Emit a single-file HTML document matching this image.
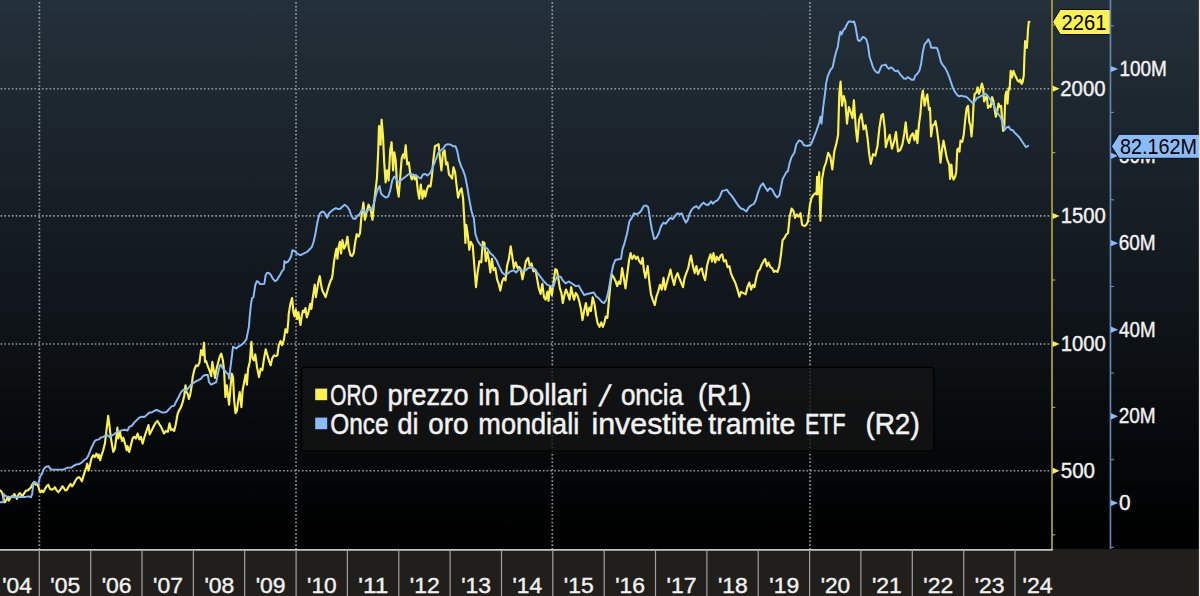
<!DOCTYPE html>
<html lang="it"><head><meta charset="utf-8"><title>ORO / ETF</title>
<style>
html,body{margin:0;padding:0;background:#000;}
body{width:1200px;height:596px;overflow:hidden;position:relative;}
#chart{position:absolute;left:0;top:0;width:1200px;height:596px;background:linear-gradient(to bottom,#24303a 0px,#1a232b 150px,#10161b 300px,#070a0c 430px,#000 535px,#000 596px);}
svg{position:absolute;left:0;top:0;}
svg text{font-family:"Liberation Sans", "DejaVu Sans", sans-serif;white-space:pre;}
</style></head><body>
<div id="chart">
<svg width="1200" height="596" viewBox="0 0 1200 596">
<line x1="39.4" y1="2.05" x2="39.4" y2="549" stroke="#96989a" stroke-width="1.7" stroke-dasharray="1.6 2.166"/>
<line x1="296" y1="2.05" x2="296" y2="549" stroke="#96989a" stroke-width="1.7" stroke-dasharray="1.6 2.166"/>
<line x1="552.3" y1="2.05" x2="552.3" y2="549" stroke="#96989a" stroke-width="1.7" stroke-dasharray="1.6 2.166"/>
<line x1="810" y1="2.05" x2="810" y2="549" stroke="#96989a" stroke-width="1.7" stroke-dasharray="1.6 2.166"/>
<line x1="0.6" y1="88.75" x2="1051" y2="88.75" stroke="#96989a" stroke-width="1.7" stroke-dasharray="1.6 2.166"/>
<line x1="0.6" y1="215.9" x2="1051" y2="215.9" stroke="#96989a" stroke-width="1.7" stroke-dasharray="1.6 2.166"/>
<line x1="0.6" y1="344" x2="1051" y2="344" stroke="#96989a" stroke-width="1.7" stroke-dasharray="1.6 2.166"/>
<line x1="0.6" y1="470.75" x2="1051" y2="470.75" stroke="#96989a" stroke-width="1.7" stroke-dasharray="1.6 2.166"/>
<path d="M0 490.5 L1.3 491.4 L2.5 493.9 L3.7 498.9 L5 502.3 L6.4 499.8 L7.6 497.2 L8.7 500.6 L10.1 498.1 L11.4 496.4 L12.6 497.2 L14.3 493.9 L15.4 495.6 L16.8 498.9 L18.1 495.6 L19.8 493.1 L21 494.7 L22.7 495.6 L24.3 493.1 L26 490.5 L27.7 490.5 L29.4 488.9 L31 487.2 L32.7 483.8 L34.4 482.1 L35.6 484.7 L36.9 483.8 L38.3 486.3 L39.4 490.5 L40.6 492.2 L41.9 490.5 L43.3 492.2 L45 488.9 L46.6 486.3 L48.3 484.7 L50 488.9 L51.7 489.7 L53.4 488.9 L55 487.2 L56.7 490.5 L58.4 492.2 L60.4 489.7 L62.4 486.3 L63.8 488 L65.4 490.5 L67.1 489.7 L68.8 486.3 L70.5 483.8 L72.1 486.3 L73.8 483.8 L75.5 480.5 L77.2 478 L78.9 477.1 L80.5 478.8 L81.9 481.3 L83.1 477.1 L84.7 472.1 L86.4 467 L87.2 463.7 L88.6 470.4 L89.8 465.4 L91.4 458.7 L93.1 455.3 L94.8 457 L96.5 453.6 L98.2 457.8 L99 454.5 L100.2 460.3 L101.5 455.3 L103.2 450.3 L104.9 443.6 L106.5 430.1 L108.2 415.9 L109.4 425.1 L110.7 436.8 L112.1 445.2 L113.3 451.9 L114.9 448.6 L116.6 435.2 L117.4 427.6 L118.3 438.5 L120 431.8 L120.8 436.8 L122.1 441 L123.3 437.7 L125 443.6 L126.7 450.3 L127.5 446.1 L129.2 451.9 L130.9 445.2 L132.6 438.5 L134.2 436.8 L135.9 438.5 L137.6 433.5 L139.3 439.4 L140.9 436.8 L142.6 443.6 L144 438.5 L145.6 433.5 L147.3 428.5 L148.5 425.1 L149.7 434.3 L151 431.8 L153.5 426.8 L155.2 423.4 L157.4 420.9 L159.4 424.3 L161.1 426.8 L162.4 430.1 L164.1 433.5 L165.8 431 L167.8 431.8 L169.5 423.4 L171.1 430.1 L172.8 429.3 L174.2 431 L175.8 424.3 L177.6 414 L179.3 409.8 L181 407.2 L182.7 402.2 L184.3 395.5 L185.5 385.4 L186.5 392.1 L187.7 393.8 L188.9 398.9 L190.2 394.7 L191.5 387.1 L192.7 377 L194.4 369.5 L196.1 365.3 L197.8 366.1 L199.4 362.8 L201.1 350.2 L202.8 355.2 L204 342.7 L205 361.9 L206.1 361.1 L207.8 366.1 L209.5 370.3 L211.2 376.2 L212.3 361.9 L213.7 370.3 L215 377.9 L216.2 370.3 L217.9 363.6 L219.6 356.9 L221.2 353.6 L222.9 360.3 L224.1 370.3 L225.4 397.2 L226.8 385.4 L228 395.5 L229.1 404.7 L230.5 387.1 L231.8 373.7 L233 377 L234.2 400.5 L235.5 413.1 L236.8 411.4 L238.5 398.9 L239.7 392.1 L241.4 407.2 L242.6 390.5 L243.9 383.8 L245.6 374.5 L246.9 384.6 L248.1 368.7 L249.8 361.9 L251.4 341.8 L252.6 358.6 L254 360.3 L255.3 354.4 L257 367 L259 377 L260.7 368.7 L262.3 370.3 L264 358.6 L265.7 349.4 L267.4 355.2 L269.1 361.1 L270.7 365.3 L272.1 358.6 L274.1 355.2 L275.8 356.1 L277.4 355.2 L278.8 345.2 L280.5 341 L282.1 345.2 L283.8 340.1 L285.5 329.2 L287.2 332.6 L288.4 320 L288.7 313.9 L290.4 303.9 L292.1 298 L293.4 312.2 L294.6 316.4 L295.8 309.7 L297.1 319 L298.5 312.2 L299.6 320.6 L300.5 325 L301.8 315.6 L303 310.6 L304.2 312.2 L305.5 308.1 L306.8 317.3 L308.5 312.2 L310.2 303.9 L311.4 308.9 L312.6 298.8 L313.9 290.4 L314.7 284.6 L315.9 297.1 L317.2 288.8 L318.6 280.4 L319.8 276.2 L320.9 283.7 L322.3 290.4 L324 293.8 L325.6 297.1 L327.3 291.3 L329 285.4 L330.7 280.4 L331.8 278.7 L332.7 273.7 L334 261.9 L335.4 253.5 L336.5 248.5 L337.4 258.6 L338.7 246.8 L339.9 241.8 L341.1 253.5 L342.4 240.1 L344.1 248.5 L345.8 245.1 L347.4 236.7 L348.8 248.5 L350.5 255.2 L352.1 256 L353.8 252.7 L355 243.5 L356.7 234.2 L358.4 236.7 L360 233.4 L361.4 216.7 L363.4 202.6 L364.9 219.8 L366.5 212.7 L368.5 204.7 L370.5 208.7 L372.5 219.8 L374.1 202.6 L375.5 190.6 L376.9 178.5 L378.1 154.3 L379 126.1 L379.8 126.9 L380.6 144.6 L381.6 119.7 L383 136.2 L384.2 162.4 L385.6 182.5 L387 170.4 L388.6 180.5 L390.2 150.3 L391.6 142.2 L393.1 170.4 L394.3 152.3 L395.7 160.4 L397.1 186.5 L398.7 196.6 L400.3 176.5 L401.7 158.3 L403.1 154.3 L404.3 158.3 L405.7 145.2 L407.2 164.4 L408.8 162.4 L410.4 174.5 L411.8 179.5 L413.2 174.5 L414.8 179.5 L416.4 176.5 L417.8 190.6 L419.2 198.6 L420.8 184.5 L422.5 198.6 L423.9 190.6 L425.3 196.6 L426.9 189.6 L428.5 185.5 L430.5 186.5 L431.9 176.5 L433.3 160.4 L434.9 146.3 L437 145.2 L438.6 144.2 L440 158.3 L441.4 170.4 L443 152.3 L444.6 150.3 L446 164.4 L447.4 162.4 L449 174.5 L450.7 176.5 L452.1 178.5 L453.5 167.4 L455.1 172.4 L456.7 186.5 L458.1 197.6 L460.1 190.6 L461.5 188.5 L463.1 198.6 L464.7 227.2 L465.4 243 L466.3 224.9 L467.7 234 L469.3 249.8 L470.8 241.9 L472.7 245.3 L474.5 268 L476 287.2 L477.6 272.5 L479.4 261.2 L481.3 262.3 L482.8 241.9 L484.4 243 L485.8 261.2 L487.4 252.1 L489 261.2 L490.3 272.5 L491.9 258.9 L493.5 270.2 L495.3 268 L497.1 279.3 L498.7 283.8 L500.3 290.6 L502.1 281.5 L503.9 278.1 L505.5 280.4 L507.1 265.7 L508.9 258.9 L510.7 246.4 L512.3 256.6 L513.9 268 L515.7 262.3 L517.5 268 L519.1 266.8 L520.7 269.1 L522.5 279.3 L524.3 270.2 L525.9 261.2 L528.1 257.8 L529.7 265.7 L531.5 263.4 L533.4 271.3 L535.6 270.2 L537.2 279.3 L538.8 288.3 L540.6 294 L542.4 283.8 L544 297.4 L545.6 299.7 L547.4 291.7 L548.5 300.8 L550.1 286.1 L551.9 295.1 L553.7 281.5 L555.3 269.1 L556.9 270.2 L558.3 278.1 L559.9 288.3 L561.4 292.9 L562.8 303.1 L564.4 295.1 L566 289.5 L567.8 294 L569.6 299.7 L571.2 287.2 L572.8 295.1 L574.1 299.7 L575.7 292.9 L577.3 295.1 L579.1 300.8 L580.9 308.7 L582.5 320 L584.1 311 L585.9 303.1 L587.7 315.5 L589.3 307.6 L590.9 311 L592.7 297.4 L594.5 304.2 L596.1 315.5 L597.7 323.4 L599.5 326.8 L601.3 322.3 L602.9 326.8 L604.5 322.3 L605.8 316.6 L607.4 317.8 L609 299.7 L610.4 283.8 L611.9 274.7 L613.5 277 L615.3 280.4 L617.2 286.1 L618.7 281.5 L620.3 283.8 L622.1 268 L624 279.3 L625.5 288.3 L627.1 275.5 L628.9 261.4 L630.6 253.1 L632.2 259 L634.1 255.5 L636 259 L637.6 256.7 L639.3 261.4 L641.2 263.7 L642.6 257.8 L644 270.8 L645.4 277.8 L647.7 266.1 L649.4 282.5 L651 294.3 L652.9 300.1 L654.8 305.1 L656.4 296.6 L658.1 291.9 L660 284.9 L661.8 289.6 L663.5 277.8 L665.1 289.6 L667 282.5 L668.9 275.5 L670.5 269.6 L672.2 277.8 L674.1 284.9 L675.9 276.6 L677.6 273.1 L679.2 277.8 L681.1 282.5 L683 287.2 L684.6 277.8 L686.3 273.1 L688.2 268.4 L690 259 L691 255.5 L692.9 266.1 L694.7 273.1 L696.4 266.1 L698 274.3 L699.9 269.6 L701.8 268.4 L703.4 275.5 L705.1 280.2 L707 266.1 L708.8 259 L710.5 254.3 L712.1 261.4 L713.5 253.1 L715.2 262.5 L716.8 256.7 L718.7 260.2 L720.6 255.5 L722.2 254.3 L723.9 261.4 L725.8 260.2 L727.6 267.2 L729.3 266.1 L730.9 273.1 L732.8 277.8 L735.2 282.5 L737.5 289.6 L739.4 296.6 L741 291.9 L743.4 293.1 L745.7 294.3 L747.4 287.2 L749.3 282.5 L751.1 289.6 L752.8 284.9 L754.4 287.2 L756.3 277.8 L758.2 270.8 L759.8 269.6 L761.5 264.9 L763.4 261.4 L765.2 259 L766.9 266.1 L768.5 262.5 L770.4 267.2 L772.3 268.4 L773.9 271.9 L775.6 270.8 L777.5 271.9 L779.3 266.1 L781 254.3 L782.6 240.2 L784.5 237.9 L786.4 234.3 L788 233.2 L789.7 216.7 L791.6 208.5 L793.4 210.8 L795.1 217.9 L796.7 214.4 L798.6 216.7 L800.5 213.2 L802.1 224.9 L804.5 226.1 L806.1 224.9 L808 221.4 L809.9 205 L811.5 197.9 L813.9 194.4 L815.5 193.2 L816.5 194.3 L817.1 176.9 L817.7 194.3 L819.2 172.2 L820.4 220.7 L822.1 179.1 L824 168 L826 162.5 L828.2 152.8 L830.4 157 L832.3 169.4 L834.3 151.4 L836.5 143.1 L838.1 134.8 L839.3 93.2 L840.6 81.6 L842 105.7 L843.7 96 L845.3 101.6 L847 123.7 L848.9 107.1 L850.9 112.6 L852.5 118.2 L853.9 100.2 L855.9 129.3 L857.3 141.7 L859.2 119.6 L861.4 114 L863.6 129.3 L865.6 125.1 L867.5 137.6 L869.2 154.2 L870.8 163.9 L873 154.2 L875.3 155.6 L877.5 145.9 L879.4 127.9 L881.4 115.4 L883 114 L884.7 127.9 L885.8 147.3 L887.7 140.3 L889.7 134.8 L891.9 148.6 L894.1 141.7 L896 132 L898 151.4 L900.2 150 L902.4 144.5 L904.3 133.4 L905.7 122.3 L907.4 138.9 L909.1 143.1 L910.7 136.2 L912.7 133.4 L914.6 140.3 L916.3 130.6 L917.4 143.1 L919 123.7 L920.4 114 L921.8 96 L922.9 90.5 L924.6 105.7 L926 98.8 L927.3 94.6 L929 109.9 L930 108 L931.1 136.4 L932.6 125.5 L934.4 124.4 L935.5 121.1 L937 129.8 L938.7 142.9 L940.5 162.6 L942 149.5 L943.5 140.7 L944.8 147.3 L946.4 156 L947.5 160.4 L949.2 164.7 L950.1 178.9 L951.4 164.7 L952.3 175.6 L953.6 179.6 L955.1 176.7 L956.2 172.4 L957.3 149.5 L958.4 148.4 L959.5 151.6 L960.5 140.7 L962.3 141.8 L963.8 134.2 L965.3 118.9 L966.7 108 L968 105.8 L969.3 122.2 L970.4 125.5 L971.5 136.4 L972.5 125.5 L973.6 103.6 L974.7 93.8 L976.3 92.7 L977.6 87.3 L978.9 93.8 L980.2 90.5 L981.9 83.6 L983.2 88.4 L984.1 101.5 L985.4 98.2 L986.7 96 L988 108 L989.3 105.8 L990.7 106.9 L992 97.1 L993.3 100.4 L994.6 109.1 L995.9 116.7 L997.2 111.3 L998.5 103.6 L999.8 106.9 L1001.1 105.8 L1002 117.8 L1003.1 130.9 L1004.2 129.8 L1005.3 96 L1006.4 91.6 L1007.5 103.6 L1008.6 88.4 L1009.6 89.5 L1010.7 70.9 L1012 77.5 L1013.4 70.9 L1014.7 74.2 L1016.2 77.5 L1017.7 80.7 L1019 81.8 L1020.3 79.6 L1021.6 84 L1022.7 81.8 L1023.8 75.3 L1024.3 60.4 L1025.1 41.1 L1025.9 42.8 L1026.8 47.8 L1027.4 40.2 L1028.1 28.5 L1028.8 21.8 L1029.5 21.8" fill="none" stroke="#fbf14f" stroke-width="2.15" stroke-linejoin="round" stroke-linecap="round"/>
<path d="M0 502.3 L3.4 502.3 L3.7 493.9 L5 495.6 L6.7 496.4 L10.1 496.9 L15.1 496.9 L20.1 496.9 L25.2 496.9 L28.5 496.4 L31 497.2 L32.2 493.9 L33.1 485.5 L34.1 481.8 L35.2 482.1 L36.9 483.8 L38.6 483 L39.9 477.1 L41.9 473.8 L44 468.7 L46.1 466.7 L48.7 466.2 L50.3 468.7 L52 469.6 L55.4 469.6 L58.7 469.6 L62.9 469.6 L65.4 468.7 L68 467.6 L71.3 467.6 L73.8 465.7 L76.3 464.5 L78.9 464 L81.4 462.9 L83.9 460.3 L86.4 458.7 L88.1 456.1 L89.8 451.9 L91.4 447.8 L93.1 444.4 L94.8 441 L96.5 439.9 L99 439.4 L100.7 437.7 L103.2 436.8 L105.4 435.5 L107.4 435.2 L109.9 437.2 L112.4 435.2 L114.9 433.5 L117.4 431.5 L120 431 L122.5 430.1 L125 429.8 L127.5 430.5 L129.2 426.8 L131.7 425.9 L134.2 422.6 L136.7 420.1 L139.3 417.6 L141.8 416.7 L144.3 417 L146.8 415 L149.3 412.5 L151.8 412.5 L154.4 410.8 L156.9 410 L158.6 410.8 L162.5 412.6 L165 412.3 L166.7 411.9 L169.2 408.9 L171.7 406.4 L174.3 405.6 L175.9 402.2 L178.5 397.2 L181 392.1 L183.5 389.6 L186 390.5 L188.5 388 L191 384.6 L193.6 382.9 L196.1 381.2 L198.6 380.1 L201.1 378.7 L202.8 376.2 L205.3 375 L207.8 375 L209 382.1 L211.2 384.6 L213.7 383.4 L216.2 382.1 L217.9 373.7 L219.6 366.1 L220.7 364.5 L222.4 367.8 L224.6 370.3 L226.8 372.9 L228.5 374.5 L229.1 378.7 L230.1 370.3 L231.8 356.9 L233 346.8 L234.7 347.7 L236.3 348.5 L238 346.8 L239.7 346 L242.2 344.3 L244.7 341.8 L246.4 339.3 L247.6 333.4 L248.9 326.7 L249.8 315.6 L251 303.9 L252.1 298 L253.5 297.1 L255.2 285.4 L256.8 281.2 L258.5 282 L260.2 284.1 L262.7 284.1 L264.4 283.7 L265.6 275.3 L267.2 272.8 L269.4 273.3 L271.1 275.3 L272.8 278.7 L275 281.2 L277 280 L278.7 277 L280.3 274.5 L282 271.1 L283.7 269.5 L284.5 261.1 L286.2 262.8 L287.9 261.6 L289.6 259.4 L291.2 256 L292.4 250.2 L294.6 251 L296.3 252.7 L298.5 254.4 L300.5 255.2 L303 253.9 L305.5 252.7 L307.2 251.8 L309.7 249.3 L311.9 246.8 L313.6 241.8 L315.2 235.1 L316.9 225 L317.7 220.8 L319.7 213.7 L321.8 211.7 L323.8 211.7 L325.8 214.7 L327.2 217.8 L328.6 213.7 L330.6 211.7 L333.2 209.7 L335.9 208.1 L338.3 209.1 L340.3 208.7 L342.3 206.7 L344.7 204.7 L347.3 206.7 L349.3 209.7 L351.4 215.7 L353.4 218.8 L355.4 218.8 L357.4 215.7 L359.4 214.7 L361.4 210.7 L363.4 209.7 L365.5 212.7 L367.5 210.7 L369.5 208.7 L372.1 208.7 L374.1 202.6 L376.1 194.6 L378.1 188.5 L379.6 186.1 L381 193.6 L383 195.6 L385.6 197.6 L388.2 196.6 L390.2 190.6 L392.2 180.5 L394.3 176.5 L396.3 178.5 L398.3 182.5 L400.7 180.5 L403.1 178.5 L405.7 176.5 L408.8 174 L411.2 174 L413.2 175.5 L415.8 174.9 L418.8 177.5 L420.8 178.5 L422.9 174.5 L425.3 174 L427.3 175.5 L429.9 173.4 L431.9 169.4 L433.9 164.4 L436.6 157.3 L439 151.3 L441 150.3 L443.4 148.3 L445.4 145.2 L448 144.2 L450.7 144.6 L453.1 146.3 L455.5 146.3 L457.1 150.3 L459.1 160.4 L461.1 166.4 L463.1 170.4 L465.2 176.5 L467.2 186.5 L468.8 196.6 L471.5 211.3 L473.8 218.1 L475.4 234 L477.6 240.8 L480.6 245.3 L484 246.4 L487.4 248.7 L490.3 253.2 L493 255.5 L496.4 260 L499.4 266.8 L502.1 272.5 L504.8 274.7 L507.8 273.6 L510.7 271.3 L513.4 270.2 L516.1 272.5 L519.1 269.1 L522.5 270.7 L525.9 270.2 L528.1 268 L531.5 267.5 L534.9 269.1 L537.2 272.5 L540.6 277 L544 281.5 L547.4 284.9 L550.8 286.1 L553.1 287.2 L555.3 280.4 L557.6 275.9 L560.5 276.6 L562.8 280.4 L565.5 283.4 L568.9 281.5 L572.3 283.8 L575.7 286.1 L578.7 285.6 L581.4 290.6 L584.1 295.1 L587 294 L590.4 293.3 L593.8 292.4 L596.1 296.3 L599 298.5 L601.8 301.9 L604 303.1 L606.3 299.7 L608.6 290.6 L610.8 277 L613.1 265.7 L615.3 260 L618.7 259.3 L621 258.9 L622.4 249.6 L624.7 242.6 L627.1 233.2 L629.4 221.4 L631.8 217.9 L634.1 213.2 L636.5 214.4 L638.8 213.2 L641.2 210.8 L643.5 206.1 L646.3 205.4 L648.2 207.3 L650.1 219.1 L651.7 228.5 L654.1 239 L656.4 237.9 L658.8 233.2 L661.1 226.1 L663.5 222.6 L665.8 223.8 L668.2 220.2 L670.5 217.9 L672.9 219.1 L675.2 215.5 L677.6 213.2 L679.9 214.4 L681.6 213.2 L683.5 217.9 L685.8 222.6 L687.7 220.2 L689.3 214.4 L691.7 209.7 L694 207.3 L696.4 206.1 L698.7 208.5 L701.1 205 L703.4 202.6 L705.8 204.5 L708.1 205 L711.2 201.4 L712.8 203.8 L715.2 201.4 L717.5 200.3 L719.9 196.7 L722.2 190.9 L724.6 190.4 L726.9 189.7 L729.3 193.2 L731.6 195.6 L734 199.1 L736.3 202.6 L738.7 206.1 L741 208.5 L743.4 209.2 L746.4 211.5 L748.8 207.3 L751.6 205 L754 203.8 L755.8 200.3 L758.2 192 L760.5 186.2 L762.9 183.3 L765.2 187.3 L767.6 190.9 L769.9 188 L772.3 189.7 L774.6 194.4 L777 197.4 L779.3 195.6 L781 187.3 L782.6 179.1 L784.5 175.6 L786.4 172.1 L788 170.9 L789.4 163.9 L791.6 157 L794.4 152.8 L796.3 144.5 L799.1 140.3 L801.9 141.7 L803.8 145.3 L807.4 145.9 L811 144.5 L813.8 137.6 L816.5 130.6 L819.3 122.3 L820.4 116.8 L821.5 123.7 L823.2 107.1 L825.4 90.5 L826 83.9 L827.7 76.3 L830.2 70.4 L832.7 67.1 L834.4 58.7 L836.1 52 L837.8 46.9 L838.9 38.6 L840.3 31.8 L841.6 34.4 L843.3 30.2 L845 28.5 L846.6 25.1 L848.7 21.4 L850.7 21.4 L852.3 22.1 L854 21.4 L855.4 26 L856.7 33.5 L857.9 40.2 L859.6 41.1 L861.2 39.4 L862.9 36.9 L864.6 37.7 L866.3 39.4 L868 45.3 L869.6 57 L871.3 62 L873 67.1 L874.7 70.4 L876.3 72.1 L878.5 73 L880.2 68.8 L881.9 65.4 L883.9 65.1 L885.6 64.6 L887.2 67.1 L888.9 68.8 L890.9 67.4 L892.6 68.4 L894.3 70.4 L896 71.3 L897.7 70.4 L899.8 73.8 L902 76.3 L904 78.5 L906 78.8 L907.7 77.1 L909.9 78.5 L911.6 79.7 L913.8 79.7 L915.4 75.5 L917.4 73.8 L919.5 70.4 L921.1 63.7 L922.8 52 L924.5 44.4 L926.7 41.9 L928.4 39.4 L930 42.8 L931.2 47.8 L933.4 47.8 L935.6 47.8 L937.2 48.3 L938.9 53.7 L940.9 62 L943 65.4 L945.1 67.9 L947.3 72.1 L949.3 77.1 L951 82.2 L953 88.1 L955.2 92.2 L957.4 95.3 L959.4 96.4 L961.4 95.6 L963.6 96.4 L965.8 96.4 L967.8 98.1 L970.3 100.6 L972.8 103.2 L974.5 101.5 L977 98.1 L979.5 96.9 L982 95.6 L984.6 93.9 L985.6 93.8 L987.8 96 L990 99.3 L992.2 102.5 L994.4 106.9 L996.6 111.3 L998.7 114.5 L1000.9 117.8 L1003.1 124.4 L1004.6 129.8 L1006.4 127.6 L1008.6 126.6 L1010.7 129.8 L1012.9 130.3 L1015.1 133.1 L1017.3 135.3 L1019.5 137.5 L1021.6 140.7 L1023.8 144 L1026 147.3 L1028.2 145.8" fill="none" stroke="#89bcf9" stroke-width="1.95" stroke-linejoin="round" stroke-linecap="round"/>
<path d="M1052.6 21.95 L1060.2 9.5 L1110.6 9.5 L1110.6 34.5 L1060.2 34.5 Z" fill="#fbf14f" stroke="#0a0d10" stroke-width="1"/>
<line x1="1052" y1="0" x2="1052" y2="550" stroke="#a8a13a" stroke-width="1.75"/>
<line x1="1110.45" y1="0" x2="1110.45" y2="549" stroke="#6686b4" stroke-width="1.65"/>
<line x1="1052" y1="25" x2="1055.3" y2="25" stroke="#a8a13a" stroke-width="1.2"/>
<line x1="1052" y1="152.6" x2="1055.3" y2="152.6" stroke="#a8a13a" stroke-width="1.2"/>
<line x1="1052" y1="280" x2="1055.3" y2="280" stroke="#a8a13a" stroke-width="1.2"/>
<line x1="1052" y1="407.4" x2="1055.3" y2="407.4" stroke="#a8a13a" stroke-width="1.2"/>
<line x1="1052" y1="534.9" x2="1055.3" y2="534.9" stroke="#a8a13a" stroke-width="1.2"/>
<path d="M1052.6 85.60000000000001 L1059.6 88.7 L1052.6 91.8 Z" fill="#fbf14f"/>
<text transform="translate(1060.30 95.80) scale(0.9196 1)" font-size="22.1" fill="#f2f2f2" stroke="#f2f2f2" stroke-width="0.4" vector-effect="non-scaling-stroke">2000</text>
<path d="M1052.6 212.9 L1059.6 216 L1052.6 219.1 Z" fill="#fbf14f"/>
<text transform="translate(1060.83 223.10) scale(0.9167 1)" font-size="22.1" fill="#f2f2f2" stroke="#f2f2f2" stroke-width="0.4" vector-effect="non-scaling-stroke">1500</text>
<path d="M1052.6 340.9 L1059.6 344 L1052.6 347.1 Z" fill="#fbf14f"/>
<text transform="translate(1060.83 351.10) scale(0.9167 1)" font-size="22.1" fill="#f2f2f2" stroke="#f2f2f2" stroke-width="0.4" vector-effect="non-scaling-stroke">1000</text>
<path d="M1052.6 467.7 L1059.6 470.8 L1052.6 473.90000000000003 Z" fill="#fbf14f"/>
<text transform="translate(1060.76 477.90) scale(0.9289 1)" font-size="22.1" fill="#f2f2f2" stroke="#f2f2f2" stroke-width="0.4" vector-effect="non-scaling-stroke">500</text>
<line x1="1110.45" y1="25.8" x2="1113.9" y2="25.8" stroke="#6686b4" stroke-width="1.2"/>
<line x1="1110.45" y1="112.4" x2="1113.9" y2="112.4" stroke="#6686b4" stroke-width="1.2"/>
<line x1="1110.45" y1="199.8" x2="1113.9" y2="199.8" stroke="#6686b4" stroke-width="1.2"/>
<line x1="1110.45" y1="286.5" x2="1113.9" y2="286.5" stroke="#6686b4" stroke-width="1.2"/>
<line x1="1110.45" y1="373" x2="1113.9" y2="373" stroke="#6686b4" stroke-width="1.2"/>
<line x1="1110.45" y1="459.6" x2="1113.9" y2="459.6" stroke="#6686b4" stroke-width="1.2"/>
<line x1="1110.45" y1="547.3" x2="1113.9" y2="547.3" stroke="#6686b4" stroke-width="1.2"/>
<path d="M1110.9 65.9 L1118.2 69.0 L1110.9 72.1 Z" fill="#89bcf9"/>
<text transform="translate(1119.41 76.10) scale(0.8586 1)" font-size="22.1" fill="#f2f2f2" stroke="#f2f2f2" stroke-width="0.4" vector-effect="non-scaling-stroke">100M</text>
<path d="M1110.9 152.70000000000002 L1118.2 155.8 L1110.9 158.9 Z" fill="#89bcf9"/>
<text transform="translate(1119.01 162.90) scale(0.8527 1)" font-size="22.1" fill="#f2f2f2" stroke="#f2f2f2" stroke-width="0.4" vector-effect="non-scaling-stroke">80M</text>
<path d="M1110.9 240.1 L1118.2 243.2 L1110.9 246.29999999999998 Z" fill="#89bcf9"/>
<text transform="translate(1118.71 250.30) scale(0.8600 1)" font-size="22.1" fill="#f2f2f2" stroke="#f2f2f2" stroke-width="0.4" vector-effect="non-scaling-stroke">60M</text>
<path d="M1110.9 326.59999999999997 L1118.2 329.7 L1110.9 332.8 Z" fill="#89bcf9"/>
<text transform="translate(1119.11 336.80) scale(0.8504 1)" font-size="22.1" fill="#f2f2f2" stroke="#f2f2f2" stroke-width="0.4" vector-effect="non-scaling-stroke">40M</text>
<path d="M1110.9 413.2 L1118.2 416.3 L1110.9 419.40000000000003 Z" fill="#89bcf9"/>
<text transform="translate(1118.71 423.40) scale(0.8600 1)" font-size="22.1" fill="#f2f2f2" stroke="#f2f2f2" stroke-width="0.4" vector-effect="non-scaling-stroke">20M</text>
<path d="M1110.9 499.9 L1118.2 503 L1110.9 506.1 Z" fill="#89bcf9"/>
<text transform="translate(1118.95 510.10) scale(0.9412 1)" font-size="22.1" fill="#f2f2f2" stroke="#f2f2f2" stroke-width="0.4" vector-effect="non-scaling-stroke">0</text>
<text transform="translate(1061.55 29.90) scale(0.9125 1)" font-size="22.1" fill="#000" stroke="#000" stroke-width="0" vector-effect="non-scaling-stroke">2261</text>
<path d="M1111.4 146.3 L1119 134.3 L1199.5 134.3 L1199.5 158.3 L1119 158.3 Z" fill="#89bcf9" stroke="#0a0d10" stroke-width="1"/>
<text transform="translate(1119.98 153.80) scale(0.8947 1)" font-size="22.1" fill="#000" stroke="#000" stroke-width="0" vector-effect="non-scaling-stroke">82.162M</text>
<rect x="0" y="549" width="1200" height="47" fill="#211f1c"/>
<line x1="0" y1="549.9" x2="1052.9" y2="549.9" stroke="#c6c6c6" stroke-width="1.6"/>
<line x1="39.3" y1="550.5" x2="39.3" y2="596" stroke="#a2a2a2" stroke-width="1.2"/>
<line x1="90.7" y1="550.5" x2="90.7" y2="596" stroke="#a2a2a2" stroke-width="1.2"/>
<line x1="142.0" y1="550.5" x2="142.0" y2="596" stroke="#a2a2a2" stroke-width="1.2"/>
<line x1="193.4" y1="550.5" x2="193.4" y2="596" stroke="#a2a2a2" stroke-width="1.2"/>
<line x1="244.7" y1="550.5" x2="244.7" y2="596" stroke="#a2a2a2" stroke-width="1.2"/>
<line x1="296.1" y1="550.5" x2="296.1" y2="596" stroke="#a2a2a2" stroke-width="1.2"/>
<line x1="347.4" y1="550.5" x2="347.4" y2="596" stroke="#a2a2a2" stroke-width="1.2"/>
<line x1="398.8" y1="550.5" x2="398.8" y2="596" stroke="#a2a2a2" stroke-width="1.2"/>
<line x1="450.1" y1="550.5" x2="450.1" y2="596" stroke="#a2a2a2" stroke-width="1.2"/>
<line x1="501.5" y1="550.5" x2="501.5" y2="596" stroke="#a2a2a2" stroke-width="1.2"/>
<line x1="552.8" y1="550.5" x2="552.8" y2="596" stroke="#a2a2a2" stroke-width="1.2"/>
<line x1="604.2" y1="550.5" x2="604.2" y2="596" stroke="#a2a2a2" stroke-width="1.2"/>
<line x1="655.5" y1="550.5" x2="655.5" y2="596" stroke="#a2a2a2" stroke-width="1.2"/>
<line x1="706.9" y1="550.5" x2="706.9" y2="596" stroke="#a2a2a2" stroke-width="1.2"/>
<line x1="758.2" y1="550.5" x2="758.2" y2="596" stroke="#a2a2a2" stroke-width="1.2"/>
<line x1="809.6" y1="550.5" x2="809.6" y2="596" stroke="#a2a2a2" stroke-width="1.2"/>
<line x1="860.9" y1="550.5" x2="860.9" y2="596" stroke="#a2a2a2" stroke-width="1.2"/>
<line x1="912.3" y1="550.5" x2="912.3" y2="596" stroke="#a2a2a2" stroke-width="1.2"/>
<line x1="963.7" y1="550.5" x2="963.7" y2="596" stroke="#a2a2a2" stroke-width="1.2"/>
<line x1="1015.0" y1="550.5" x2="1015.0" y2="596" stroke="#a2a2a2" stroke-width="1.2"/>
<text transform="translate(2.23 593.40) scale(1.0288 1)" font-size="22.1" fill="#f2f2f2" stroke="#f2f2f2" stroke-width="0.4" vector-effect="non-scaling-stroke">'04</text>
<text transform="translate(50.32 593.40) scale(1.0383 1)" font-size="22.1" fill="#f2f2f2" stroke="#f2f2f2" stroke-width="0.4" vector-effect="non-scaling-stroke">'05</text>
<text transform="translate(101.68 593.40) scale(1.0383 1)" font-size="22.1" fill="#f2f2f2" stroke="#f2f2f2" stroke-width="0.4" vector-effect="non-scaling-stroke">'06</text>
<text transform="translate(153.03 593.40) scale(1.0383 1)" font-size="22.1" fill="#f2f2f2" stroke="#f2f2f2" stroke-width="0.4" vector-effect="non-scaling-stroke">'07</text>
<text transform="translate(204.38 593.40) scale(1.0383 1)" font-size="22.1" fill="#f2f2f2" stroke="#f2f2f2" stroke-width="0.4" vector-effect="non-scaling-stroke">'08</text>
<text transform="translate(255.74 593.40) scale(1.0383 1)" font-size="22.1" fill="#f2f2f2" stroke="#f2f2f2" stroke-width="0.4" vector-effect="non-scaling-stroke">'09</text>
<text transform="translate(307.10 593.40) scale(1.0252 1)" font-size="22.1" fill="#f2f2f2" stroke="#f2f2f2" stroke-width="0.4" vector-effect="non-scaling-stroke">'10</text>
<text transform="translate(358.37 593.40) scale(1.1059 1)" font-size="22.1" fill="#f2f2f2" stroke="#f2f2f2" stroke-width="0.4" vector-effect="non-scaling-stroke">'11</text>
<text transform="translate(409.80 593.40) scale(1.0383 1)" font-size="22.1" fill="#f2f2f2" stroke="#f2f2f2" stroke-width="0.4" vector-effect="non-scaling-stroke">'12</text>
<text transform="translate(461.15 593.40) scale(1.0383 1)" font-size="22.1" fill="#f2f2f2" stroke="#f2f2f2" stroke-width="0.4" vector-effect="non-scaling-stroke">'13</text>
<text transform="translate(512.51 593.40) scale(1.0252 1)" font-size="22.1" fill="#f2f2f2" stroke="#f2f2f2" stroke-width="0.4" vector-effect="non-scaling-stroke">'14</text>
<text transform="translate(563.85 593.40) scale(1.0383 1)" font-size="22.1" fill="#f2f2f2" stroke="#f2f2f2" stroke-width="0.4" vector-effect="non-scaling-stroke">'15</text>
<text transform="translate(615.21 593.40) scale(1.0383 1)" font-size="22.1" fill="#f2f2f2" stroke="#f2f2f2" stroke-width="0.4" vector-effect="non-scaling-stroke">'16</text>
<text transform="translate(666.56 593.40) scale(1.0383 1)" font-size="22.1" fill="#f2f2f2" stroke="#f2f2f2" stroke-width="0.4" vector-effect="non-scaling-stroke">'17</text>
<text transform="translate(717.91 593.40) scale(1.0383 1)" font-size="22.1" fill="#f2f2f2" stroke="#f2f2f2" stroke-width="0.4" vector-effect="non-scaling-stroke">'18</text>
<text transform="translate(769.27 593.40) scale(1.0383 1)" font-size="22.1" fill="#f2f2f2" stroke="#f2f2f2" stroke-width="0.4" vector-effect="non-scaling-stroke">'19</text>
<text transform="translate(820.63 593.40) scale(1.0252 1)" font-size="22.1" fill="#f2f2f2" stroke="#f2f2f2" stroke-width="0.4" vector-effect="non-scaling-stroke">'20</text>
<text transform="translate(871.97 593.40) scale(1.0383 1)" font-size="22.1" fill="#f2f2f2" stroke="#f2f2f2" stroke-width="0.4" vector-effect="non-scaling-stroke">'21</text>
<text transform="translate(923.33 593.40) scale(1.0383 1)" font-size="22.1" fill="#f2f2f2" stroke="#f2f2f2" stroke-width="0.4" vector-effect="non-scaling-stroke">'22</text>
<text transform="translate(974.68 593.40) scale(1.0383 1)" font-size="22.1" fill="#f2f2f2" stroke="#f2f2f2" stroke-width="0.4" vector-effect="non-scaling-stroke">'23</text>
<text transform="translate(1022.62 593.40) scale(1.0435 1)" font-size="22.1" fill="#f2f2f2" stroke="#f2f2f2" stroke-width="0.4" vector-effect="non-scaling-stroke">'24</text>
<rect x="301.6" y="367.4" width="632.4" height="83.6" rx="3.2" fill="#141414" fill-opacity="0.76" stroke="#000" stroke-width="1.3"/>
<rect x="315.2" y="388.6" width="12" height="11.6" fill="#fbf14f"/>
<rect x="315.2" y="417.6" width="12" height="11.6" fill="#89bcf9"/>
<text transform="translate(330.33 404.80) scale(0.6965 1)" font-size="29.8" fill="#f2f2f2" stroke="#f2f2f2" stroke-width="0.5" vector-effect="non-scaling-stroke">ORO</text>
<text transform="translate(387.51 404.80) scale(0.9065 1)" font-size="29.8" fill="#f2f2f2" stroke="#f2f2f2" stroke-width="0.5" vector-effect="non-scaling-stroke">prezzo</text>
<text transform="translate(478.27 404.80) scale(0.9309 1)" font-size="29.8" fill="#f2f2f2" stroke="#f2f2f2" stroke-width="0.5" vector-effect="non-scaling-stroke">in</text>
<text transform="translate(508.62 404.80) scale(0.9356 1)" font-size="29.8" fill="#f2f2f2" stroke="#f2f2f2" stroke-width="0.5" vector-effect="non-scaling-stroke">Dollari</text>
<text transform="translate(598.60 406.40) skewX(-12.6)" font-size="29.8" fill="#f2f2f2" stroke="#f2f2f2" stroke-width="0.5">/</text>
<text transform="translate(620.89 404.80) scale(0.8738 1)" font-size="29.8" fill="#f2f2f2" stroke="#f2f2f2" stroke-width="0.5" vector-effect="non-scaling-stroke">oncia</text>
<text transform="translate(697.92 404.80) scale(0.9163 1)" font-size="29.8" fill="#f2f2f2" stroke="#f2f2f2" stroke-width="0.5" vector-effect="non-scaling-stroke">(R1)</text>
<text transform="translate(330.16 433.60) scale(0.8190 1)" font-size="29.8" fill="#f2f2f2" stroke="#f2f2f2" stroke-width="0.5" vector-effect="non-scaling-stroke">Once</text>
<text transform="translate(397.46 433.60) scale(0.9065 1)" font-size="29.8" fill="#f2f2f2" stroke="#f2f2f2" stroke-width="0.5" vector-effect="non-scaling-stroke">di</text>
<text transform="translate(428.33 433.60) scale(0.9357 1)" font-size="29.8" fill="#f2f2f2" stroke="#f2f2f2" stroke-width="0.5" vector-effect="non-scaling-stroke">oro</text>
<text transform="translate(478.31 433.60) scale(0.9099 1)" font-size="29.8" fill="#f2f2f2" stroke="#f2f2f2" stroke-width="0.5" vector-effect="non-scaling-stroke">mondiali</text>
<text transform="translate(591.40 433.60) scale(1.0202 1)" font-size="29.8" fill="#f2f2f2" stroke="#f2f2f2" stroke-width="0.5" vector-effect="non-scaling-stroke">investite</text>
<text transform="translate(708.30 433.60) scale(0.9559 1)" font-size="29.8" fill="#f2f2f2" stroke="#f2f2f2" stroke-width="0.5" vector-effect="non-scaling-stroke">tramite</text>
<text transform="translate(805.02 433.60) scale(0.7229 1)" font-size="29.8" fill="#f2f2f2" stroke="#f2f2f2" stroke-width="0.5" vector-effect="non-scaling-stroke">ETF</text>
<text transform="translate(865.39 433.60) scale(0.9381 1)" font-size="29.8" fill="#f2f2f2" stroke="#f2f2f2" stroke-width="0.5" vector-effect="non-scaling-stroke">(R2)</text>
<rect x="1198.9" y="0" width="1.2" height="596" fill="#e8e9eb"/>
</svg>
</div>
</body></html>
